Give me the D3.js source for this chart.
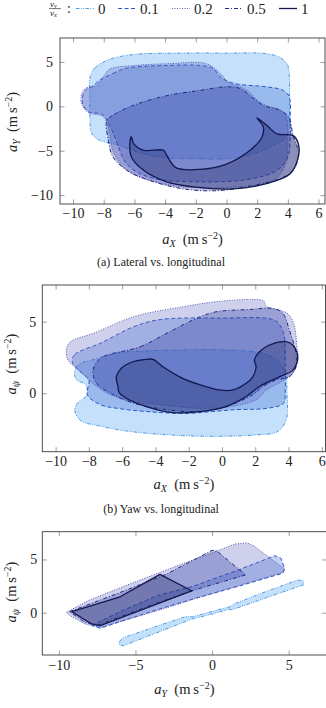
<!DOCTYPE html>
<meta charset="utf-8">
<style>
body { margin: 0; background: #fff; }
svg, svg text, svg tspan { font-family: "Liberation Serif", "DejaVu Serif", serif; }
.frame { fill: none; stroke: #3a3a3a; stroke-width: 0.9; }
.tick line { stroke: #777; stroke-width: 0.7; }
.tick text { font-size: 14px; fill: #222; }
.caption { font-size: 12px; fill: #222; }
.alabel { font-size: 14.5px; fill: #222; }
</style>
<svg width="326" height="708"></svg>
<script src="https://d3js.org/d3.v7.min.js"></script>
<script>

var svg = d3.select("svg");
var serif = "Liberation Serif";

// series: ratio v_y / v_x
var ratioLabels = ["0", "0.1", "0.2", "0.5", "1"];
var strokeColors = ["#3a8fe0", "#2d57c4", "#5558b4", "#1f2b85", "#12184f"];
var fillColors   = ["#4aa0ee", "#3163d0", "#5c62bf", "#25339a", "#161e5c"];
var fillOpacity  = [0.32, 0.3, 0.3, 0.3, 0.3];
var dashes = ["3.5,1.4,0.9,1.4,0.9,1.4", "4,2.5", "1,1.5", "4,2,1,2", null];
var widths = [0.9, 1, 1, 1, 1.3];

// (a) lateral vs longitudinal, [aX, aY]
var latXTicks = [-10, -8, -6, -4, -2, 0, 2, 4, 6];
var latYTicks = [-10, -5, 0, 5];
var latS0 = [[-8.9,3.2],[-8.6,4.3],[-7.6,5.3],[-6,5.85],[-3,6.0],[0,6.0],[2.5,5.95],[3.5,5.5],[4.0,4.6],[4.1,3],[4.1,0],[4.1,-2.5],[3.8,-3.6],[2.8,-4.6],[1.5,-5.5],[0,-5.9],[-2,-5.9],[-4,-5.8],[-5.5,-5.3],[-7,-4.4],[-8.3,-3.8],[-8.8,-3.0],[-8.9,-1.5],[-8.9,1]];
var latS1 = [[-8.3,2.9],[-7.4,3.7],[-6.5,4.3],[-4,4.6],[-1.7,4.6],[-0.86,4.25],[-0.4,3.3],[0.45,2.6],[2.6,2.2],[3.7,1.8],[4.1,1.0],[4.15,-1.5],[4.15,-3.5],[4.0,-5.7],[3.3,-7.2],[1.5,-8.2],[-1.7,-8.5],[-5,-8.0],[-6.5,-6.5],[-7.2,-3.8],[-7.6,-2.2],[-8.1,-0.9],[-9.0,-0.6],[-9.4,0.5],[-9.2,1.8],[-8.7,2.3]];
var latS2 = [[-9.4,1.6],[-9.1,2.1],[-8.5,2.3],[-8.0,3.4],[-7.6,4.2],[-6,4.6],[-3.9,4.8],[-1.3,4.8],[-0.4,3.7],[0.2,2.6],[0.9,2.2],[1.5,1.6],[2.0,0.7],[2.6,0.1],[3.5,-0.4],[3.9,-1.2],[3.95,-4],[3.9,-6.2],[3.1,-8.3],[0.5,-9.1],[-2.6,-9.1],[-5,-8.35],[-6.5,-7.2],[-7.4,-5.0],[-7.6,-3.2],[-8.0,-1.2],[-9.0,-0.7],[-9.45,0.3]];
var latS3 = [[-7.8,-1.6],[-7.3,-0.9],[-6.1,0.1],[-3.9,1.2],[-1.7,1.8],[0,2.2],[0.9,2.0],[1.75,0.9],[2.4,0.1],[3.5,-0.45],[4.05,-1.2],[4.35,-3.4],[4.7,-5.3],[4.35,-7.2],[3.7,-8.0],[1.75,-8.9],[-0.6,-9.5],[-2.8,-9.3],[-5,-8.35],[-6.5,-7.2],[-7.4,-5.7],[-7.7,-3.8]];
var latS4 = [[-6.2,-3.4],[-6.05,-4.2],[-5.4,-4.95],[-4.1,-4.95],[-3.9,-5.5],[-3.3,-6.9],[-1.7,-7.1],[0,-6.5],[1.5,-5.0],[2.3,-3.5],[2.4,-2.3],[1.97,-1.28],[2.6,-2.1],[3.3,-3.1],[4.35,-3.3],[4.68,-4.2],[4.68,-5.7],[4.15,-7.6],[2.6,-8.7],[0.45,-9.3],[-2,-9.1],[-3.9,-8.5],[-5.4,-7.2],[-6.2,-5.7],[-6.3,-4.2]];

// (b) yaw vs longitudinal, [aX, aPsi]
var yawXTicks = [-10, -8, -6, -4, -2, 0, 2, 4, 6];
var yawYTicks = [0, 5];
var yawS0 = [[-7.9,2.3],[-6.3,2.8],[-3.3,3.0],[0.7,3.0],[2.7,2.7],[3.5,2.1],[3.85,1.2],[3.9,0.2],[3.85,-1.9],[3.3,-2.7],[2.1,-2.9],[-1.3,-3.0],[-5.3,-2.7],[-7.3,-2.3],[-8.5,-1.9],[-8.85,-1.2],[-8.7,-0.7],[-8.1,-0.1],[-8.2,0.6],[-8.75,0.95],[-8.85,1.6],[-8.5,2.1]];
var yawS1 = [[-9.0,2.2],[-8.85,2.7],[-7.3,3.5],[-5.3,4.65],[-3.7,5.15],[0,5.25],[2.7,5.23],[3.3,5.0],[3.7,4.2],[3.8,2.1],[3.8,0.2],[3.7,-0.7],[2.7,-1.05],[0.7,-1.15],[-2.1,-1.4],[-4.3,-1.3],[-6.3,-1.05],[-7.3,-0.8],[-8.1,-0.1],[-8.0,0.9],[-8.6,1.6]];
var yawS2 = [[-9.35,3.1],[-9.1,3.6],[-7.7,4.2],[-5.3,5.35],[-2.3,6.05],[-0.3,6.4],[1.9,6.55],[2.5,6.45],[2.7,6.05],[3.9,5.6],[4.3,4.9],[4.5,3.3],[4.55,2.3],[4.25,1.4],[3.7,0.9],[2.7,0.25],[2.05,-0.45],[0.7,-0.9],[-1.3,-1.05],[-3.7,-0.8],[-5.3,-0.6],[-6.7,-0.1],[-7.5,0.45],[-8.7,1.7],[-9.25,2.3]];
var yawS3 = [[-7.3,2.45],[-4.9,3.25],[-3.3,4.2],[-1.3,5.35],[-0.3,5.7],[1.7,5.85],[3.05,5.93],[3.65,5.6],[4.05,4.4],[4.45,2.8],[4.45,1.85],[4.05,1.15],[3.25,0.93],[2.45,0.47],[1.85,-0.1],[0.3,-0.9],[-1.3,-1.28],[-3.3,-1.15],[-5.3,-0.7],[-6.7,0.0],[-7.55,0.7],[-7.75,1.6]];
var yawS4 = [[-6.25,0.45],[-6.35,1.15],[-6.05,1.75],[-5.35,2.2],[-4.55,2.37],[-4.15,2.37],[-3.55,1.85],[-2.55,1.15],[-1.35,0.6],[-0.15,0.23],[0.65,0.23],[1.45,0.7],[1.85,1.15],[2.05,1.85],[1.95,2.33],[2.25,2.9],[2.85,3.37],[3.85,3.6],[4.25,3.37],[4.52,2.8],[4.52,2.2],[4.25,1.6],[3.45,1.15],[2.25,0.47],[1.45,-0.23],[0.25,-0.93],[-1.35,-1.28],[-2.95,-1.35],[-4.55,-0.93],[-5.75,-0.35],[-6.2,0.1]];

// (c) yaw vs lateral, [aY, aPsi]
var yvlXTicks = [-10, -5, 0, 5];
var yvlYTicks = [0, 5];
var yvlS0 = [[-6.05,-2.7],[-5.8,-2.35],[-3.8,-1.35],[-1.7,-0.35],[-1.3,-0.38],[0,0.12],[1.2,0.58],[1.4,0.8],[3.5,1.98],[5.6,3.08],[5.95,2.98],[5.98,2.62],[3.5,1.38],[1.3,0.28],[1.1,0.33],[0,-0.12],[-1.4,-0.62],[-1.6,-0.75],[-3.8,-1.98],[-5.8,-3.1],[-6.05,-2.98]];
var yvlS1 = [[-7.85,-1.2],[-6,0.1],[-3.6,1.6],[-1.2,2.5],[1.5,3.9],[4.1,5.35],[4.5,5.1],[4.75,4.1],[4.6,3.7],[2,2.6],[-1,1.4],[-4,0.1],[-7.3,-1.45]];
var yvlS2 = [[-9.5,0.05],[-8,1.2],[-5,2.9],[-2,4.55],[0,5.6],[1.5,6.45],[2.3,6.55],[2.7,6.3],[4.7,4.15],[4.65,3.8],[2,2.65],[-1,1.35],[-4,0.0],[-7.3,-1.35],[-8.3,-1.05],[-9.3,-0.25]];
var yvlS3 = [[-9.3,0.1],[-6,1.9],[-3,3.6],[0,5.85],[0.3,5.8],[2.2,3.55],[-1,2.2],[-4,0.7],[-7.5,-1.2],[-8.3,-0.9]];
var yvlS4 = [[-9.15,0.1],[-6,1.5],[-3.4,3.6],[-1.33,2.06],[-4,0.6],[-7.3,-1.2],[-7.85,-1.05]];

function richLabel(t, sym, sub) {
  t.attr("font-family", serif);
  t.append("tspan").attr("font-style", "italic").text(sym);
  t.append("tspan").attr("font-style", "italic").attr("font-size", "10px").attr("dy", 3).text(sub);
  t.append("tspan").attr("dy", -3).text("\u2002(m\u2009s");
  t.append("tspan").attr("font-size", "10px").attr("dy", -5.5).text("\u22122");
  t.append("tspan").attr("dy", 5.5).text(")");
}

function panel(p) {
  var x = d3.scaleLinear().domain(p.xDom).range([p.left, p.right]);
  var y = d3.scaleLinear().domain(p.yDom).range([p.bottom, p.top]);
  var g = svg.append("g");

  g.append("clipPath").attr("id", "clip" + p.id)
    .append("rect")
      .attr("x", p.left).attr("y", p.top)
      .attr("width", p.right - p.left).attr("height", p.bottom - p.top);

  var line = d3.line()
      .x(function(d) { return x(d[0]); })
      .y(function(d) { return y(d[1]); })
      .curve(p.curve);

  g.append("g")
      .attr("clip-path", "url(#clip" + p.id + ")")
    .selectAll("path")
    .data(p.shapes)
    .enter().append("path")
      .attr("d", line)
      .attr("fill", function(d, i) { return fillColors[i]; })
      .attr("fill-opacity", function(d, i) { return fillOpacity[i]; })
      .attr("stroke", function(d, i) { return strokeColors[i]; })
      .attr("stroke-width", function(d, i) { return widths[i]; })
      .attr("stroke-dasharray", function(d, i) { return dashes[i]; })
      .attr("stroke-linejoin", "round");

  function clean(sel) {
    sel.attr("font-size", null).attr("font-family", serif);
    sel.select(".domain").remove();
  }

  g.append("g")
      .attr("transform", "translate(0," + p.bottom + ")")
      .call(d3.axisBottom(x).tickValues(p.xTicks).tickSize(-4.5).tickPadding(p.xPad))
      .call(clean);
  g.append("g")
      .attr("transform", "translate(0," + p.top + ")")
      .call(d3.axisTop(x).tickValues(p.xTicks).tickSize(-4.5).tickFormat(""))
      .call(clean);
  g.append("g")
      .attr("transform", "translate(" + p.left + ",0)")
      .call(d3.axisLeft(y).tickValues(p.yTicks).tickSize(-4.5).tickPadding(p.yPad))
      .call(clean);
  g.append("g")
      .attr("transform", "translate(" + p.right + ",0)")
      .call(d3.axisRight(y).tickValues(p.yTicks).tickSize(-4.5).tickFormat(""))
      .call(clean);

  g.append("rect")
      .attr("class", "frame")
      .attr("x", p.left).attr("y", p.top)
      .attr("width", p.right - p.left).attr("height", p.bottom - p.top);

  var xl = g.append("text")
      .attr("class", "alabel")
      .attr("x", (p.left + p.right) / 2)
      .attr("y", p.xLabelY)
      .attr("text-anchor", "middle");
  richLabel(xl, "a", p.xSub);

  var yl = g.append("text")
      .attr("class", "alabel")
      .attr("transform", "translate(" + p.yLabelX + "," + p.yLabelY + ") rotate(-90)")
      .attr("text-anchor", "middle");
  richLabel(yl, "a", p.ySub);

  if (p.caption) {
    g.append("text")
        .attr("class", "caption")
        .attr("font-family", serif)
        .attr("x", 161)
        .attr("y", p.captionY)
        .attr("text-anchor", "middle")
        .text(p.caption);
  }
}

panel({
  id: "a", left: 60, right: 325, top: 38, bottom: 204,
  xDom: [-10.85, 6.42], yDom: [-11.0, 7.7],
  xTicks: latXTicks, yTicks: latYTicks, xPad: 4.5, yPad: 7,
  shapes: [latS0, latS1, latS2, latS3, latS4],
  curve: d3.curveCatmullRomClosed.alpha(0.5),
  xSub: "X", ySub: "Y", xLabelY: 244, yLabelX: 17, yLabelY: 122,
  caption: "(a) Lateral vs. longitudinal", captionY: 265.5
});

panel({
  id: "b", left: 42.3, right: 325.5, top: 285, bottom: 451.7,
  xDom: [-10.8, 6.22], yDom: [-4.08, 7.56],
  xTicks: yawXTicks, yTicks: yawYTicks, xPad: 4.5, yPad: 6,
  shapes: [yawS0, yawS1, yawS2, yawS3, yawS4],
  curve: d3.curveCatmullRomClosed.alpha(0.5),
  xSub: "X", ySub: "\u03c8", xLabelY: 489, yLabelX: 16, yLabelY: 364,
  caption: "(b) Yaw vs. longitudinal", captionY: 513
});

panel({
  id: "c", left: 42.3, right: 326.5, top: 531.7, bottom: 655,
  xDom: [-11.08, 7.47], yDom: [-3.96, 7.6],
  xTicks: yvlXTicks, yTicks: yvlYTicks, xPad: 5.5, yPad: 5,
  shapes: [yvlS0, yvlS1, yvlS2, yvlS3, yvlS4],
  curve: d3.curveLinearClosed,
  xSub: "Y", ySub: "\u03c8", xLabelY: 694, yLabelX: 16, yLabelY: 592,
  caption: null
});

// legend
var lg = svg.append("g").attr("font-family", serif);
var frac = lg.append("g").attr("font-size", "9px").attr("font-style", "italic").attr("fill", "#222");
frac.append("text").attr("x", 50).attr("y", 7).text("v")
  .append("tspan").attr("font-size", "6.5px").attr("dy", 1.3).text("y");
frac.append("line").attr("x1", 49).attr("x2", 61).attr("y1", 8.6).attr("y2", 8.6)
  .attr("stroke", "#222").attr("stroke-width", 0.6);
frac.append("text").attr("x", 50).attr("y", 15.5).text("v")
  .append("tspan").attr("font-size", "6.5px").attr("dy", 1.3).text("x");
lg.append("text").attr("x", 67).attr("y", 13).attr("font-size", "14px").attr("fill", "#222").text(":");

var legX = [76, 118, 172, 225, 279];
var item = lg.selectAll(".item")
  .data(ratioLabels)
  .enter().append("g")
    .attr("class", "item")
    .attr("transform", function(d, i) { return "translate(" + legX[i] + ",8.5)"; });
item.append("line")
    .attr("x1", 0).attr("x2", 18)
    .attr("stroke", function(d, i) { return strokeColors[i]; })
    .attr("stroke-width", function(d, i) { return widths[i]; })
    .attr("stroke-dasharray", function(d, i) { return dashes[i]; });
item.append("text")
    .attr("x", 22).attr("dy", "0.35em")
    .attr("font-size", "15px").attr("fill", "#222")
    .text(function(d) { return d; });

</script>
